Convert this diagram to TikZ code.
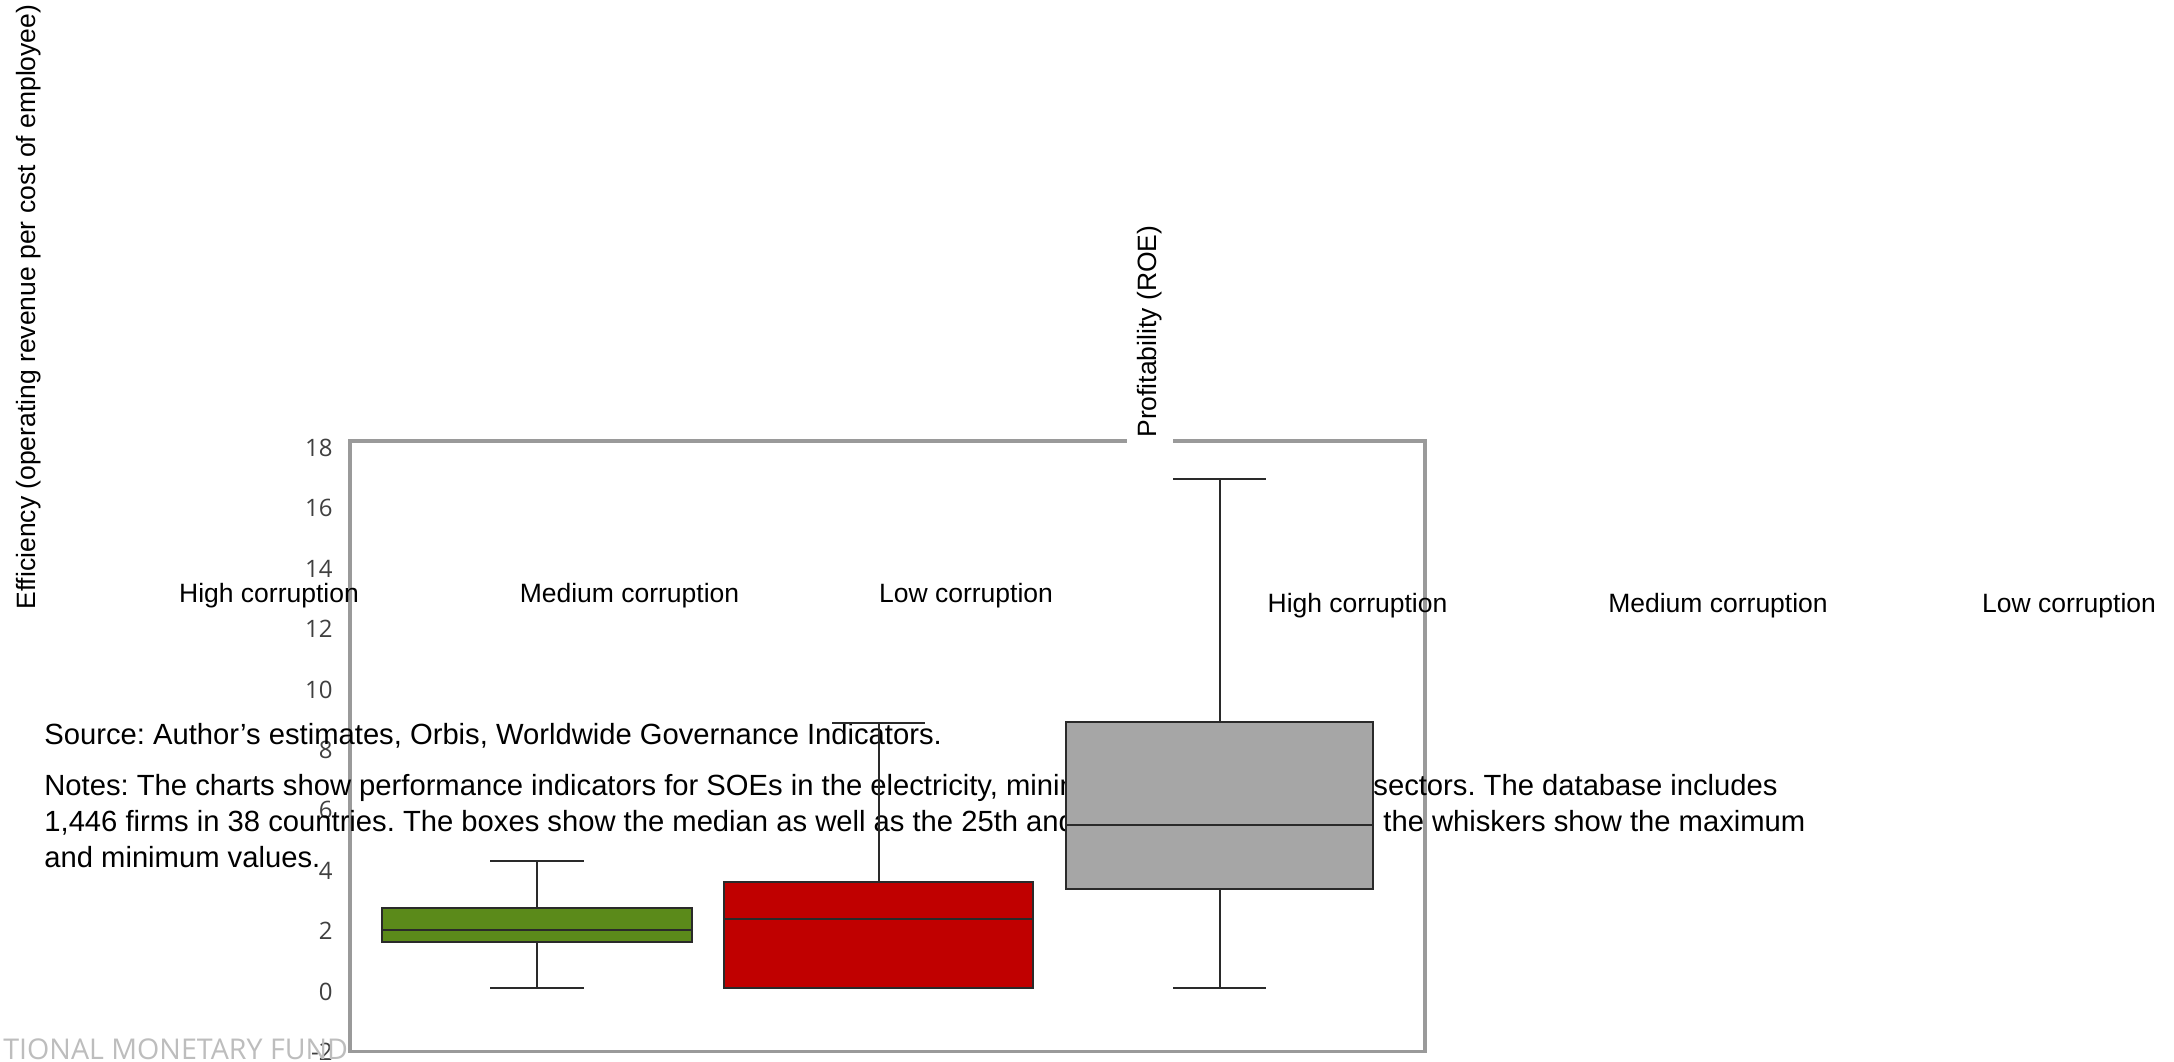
\documentclass[tikz,border=0pt]{standalone}
\usepackage{fontspec}
\setmainfont{Liberation Sans}
\newfontfamily\tickfont{Open Sans}
\newfontfamily\imffont{Open Sans}
\definecolor{framegray}{HTML}{9A9A9A}
\definecolor{tickgray}{HTML}{404040}
\definecolor{imfgray}{HTML}{BDBDBD}
\definecolor{boxgreen}{HTML}{5B8A1A}
\definecolor{boxred}{HTML}{C00000}
\definecolor{boxgray}{HTML}{A6A6A6}
\definecolor{edgegray}{HTML}{2A2A2A}
\frenchspacing
\begin{document}
\begin{tikzpicture}[x=0.5pt,y=-0.5pt,
  txt/.style={inner sep=0pt,font=\fontsize{13.25pt}{16pt}\selectfont,text=black},
  notetxt/.style={inner sep=0pt,anchor=base west,font=\fontsize{14.6pt}{17pt}\selectfont,text=black},
  ticklbl/.style={inner sep=0pt,anchor=east,font=\tickfont\fontsize{12pt}{14pt}\selectfont,text=tickgray},
  boxedge/.style={draw=edgegray,line width=1.1pt},
  whisk/.style={draw=edgegray,line width=1pt}]
\useasboundingbox (0,0) rectangle (2174,1061);
\fill[white] (0,0) rectangle (2174,1061);

% frame
\draw[framegray,line width=1.6pt] (350,441) rectangle (1425,1051.5);

% y tick labels
\foreach \v in {18,16,...,-2}{
  \node[ticklbl] (t\v) at (333,{991.6-30.2*\v}) {\v};
}

% axis titles
\node[txt,rotate=90,anchor=base west] (ytitle) at (35,610) {Efficiency (operating revenue per cost of employee)};
\node[txt,rotate=90,anchor=west,fill=white,inner sep=5.5pt] (ptitle) at (1150,449) {Profitability (ROE)};

% category labels
\node[txt,anchor=base] (h1) at (269,602) {High corruption};
\node[txt,anchor=base] (m1) at (629.5,602) {Medium corruption};
\node[txt,anchor=base] (l1) at (966,602) {Low corruption};
\node[txt,anchor=base] (h2) at (1357.5,612) {High corruption};
\node[txt,anchor=base] (m2) at (1718,612) {Medium corruption};
\node[txt,anchor=base] (l2) at (2069,612) {Low corruption};

% source and notes
\node[notetxt] (src) at (44,744) {Source: Author’s estimates, Orbis, Worldwide Governance Indicators.};
\begin{scope}
\clip (0,700) rectangle (1370,900);
\node[notetxt] (n1a) at (44,795) {Notes: The charts show performance indicators for SOEs in the electricity, mining, oil and gas, transport, and water};
\node[notetxt] (n2a) at (44,831) {1,446 firms in 38 countries. The boxes show the median as well as the 25th and 75th percentiles, while};
\end{scope}
\node[notetxt] (n1b) at (1373,795) {sectors. The database includes};
\node[notetxt] (n2b) at (1383,831) {the whiskers show the maximum};
\node[notetxt] (n3) at (44,867) {and minimum values.};

% footer
\node[inner sep=0pt,anchor=base west,font=\imffont\fontsize{14.3pt}{16pt}\selectfont,text=imfgray] (imf) at (3,1059) {TIONAL MONETARY FUND};

% green box
\draw[whisk] (537,861) -- (537,988);
\draw[whisk] (490,861) -- (584,861);
\draw[whisk] (490,988) -- (584,988);
\draw[boxedge,fill=boxgreen] (382,908) rectangle (692,942);
\draw[boxedge] (382,930) -- (692,930);

% red box
\draw[whisk] (878.5,723) -- (878.5,988);
\draw[whisk] (832,723) -- (925,723);
\draw[boxedge,fill=boxred] (724,882) rectangle (1033,988);
\draw[boxedge] (724,919) -- (1033,919);

% grey box
\draw[whisk] (1219.5,479) -- (1219.5,988);
\draw[whisk] (1173,479) -- (1266,479);
\draw[whisk] (1173,988) -- (1266,988);
\draw[boxedge,fill=boxgray] (1066,722) rectangle (1373,889);
\draw[boxedge] (1066,825) -- (1373,825);
\end{tikzpicture}
\end{document}
